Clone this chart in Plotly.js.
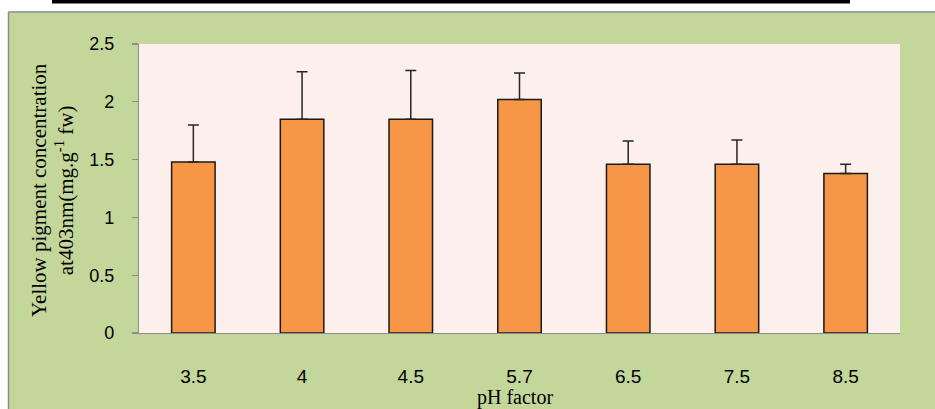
<!DOCTYPE html>
<html>
<head>
<meta charset="utf-8">
<script src="https://cdn.plot.ly/plotly-3.0.1.min.js"></script>
<style>html,body{margin:0;padding:0;background:#fff;}</style>
</head>
<body>
<div id="chart" style="width:935px;height:409px;"></div>
<script>
// Data
const categories = ['3.5', '4', '4.5', '5.7', '6.5', '7.5', '8.5'];
const values = [1.48, 1.85, 1.85, 2.02, 1.46, 1.46, 1.38];
const errorsPlus = [0.32, 0.41, 0.42, 0.23, 0.20, 0.21, 0.08];
const errorsMinus = [0, 0, 0, 0, 0, 0, 0];
const yTickVals = [0, 0.5, 1, 1.5, 2, 2.5];
const yTickText = ['0', '0.5', '1', '1.5', '2', '2.5'];
const xTitle = 'pH factor';
const yTitle = 'Yellow pigment concentration<br>at403nm(mg.g<sup>-1</sup> fw)';

// layout geometry (pixels)
const W = 935, H = 409;
const mL = 139, mR = 35, mT = 44, mB = 76;
const pw = W - mL - mR, ph = H - mT - mB;
const px2x = p => (p - mL) / pw;
const px2y = p => (H - mB - p) / ph;

const trace = {
  type: 'bar',
  x: categories,
  y: values,
  marker: { color: '#F79646', line: { color: '#1a1a1a', width: 1.5 } },
  error_y: {
    type: 'data', symmetric: false, array: errorsPlus, arrayminus: errorsMinus,
    color: '#262626', thickness: 1.5, width: 5.5
  },
  hoverinfo: 'none'
};

const layout = {
  width: W, height: H,
  margin: { l: mL, r: mR, t: mT, b: mB, pad: 0 },
  paper_bgcolor: '#C4D79B',
  plot_bgcolor: '#FDEFEB',
  showlegend: false,
  bargap: 0.6,
  font: { family: 'Liberation Sans, Arial, sans-serif', color: '#000' },
  xaxis: {
    type: 'category',
    showgrid: false, zeroline: false,
    showline: true, linecolor: '#8c8c8c', linewidth: 1.2,
    ticks: '', ticklabelstandoff: 26,
    tickfont: { size: 19, family: 'Liberation Sans, Arial, sans-serif', color: '#000' },
    fixedrange: true
  },
  yaxis: {
    range: [0, 2.5],
    tickvals: yTickVals, ticktext: yTickText,
    showgrid: false, zeroline: false,
    showline: true, linecolor: '#8c8c8c', linewidth: 1.2,
    ticks: 'outside', ticklen: 6, tickcolor: '#8c8c8c', tickwidth: 1.2,
    ticklabelstandoff: 14,
    tickfont: { size: 18, family: 'Liberation Sans, Arial, sans-serif', color: '#000' },
    fixedrange: true
  },
  annotations: [
    {
      text: yTitle, xref: 'paper', yref: 'paper',
      x: px2x(52), y: px2y(190), xanchor: 'center', yanchor: 'middle',
      textangle: -90, showarrow: false,
      font: { family: 'Liberation Serif, Times New Roman, serif', size: 21, color: '#000' }
    },
    {
      text: xTitle, xref: 'paper', yref: 'paper',
      x: px2x(515), y: px2y(397), xanchor: 'center', yanchor: 'middle',
      showarrow: false,
      font: { family: 'Liberation Serif, Times New Roman, serif', size: 20, color: '#000' }
    }
  ],
  shapes: [
    // white strip above the green chart area
    { type: 'rect', xref: 'paper', yref: 'paper', x0: px2x(-5), x1: px2x(945), y0: px2y(11.5), y1: px2y(-5),
      fillcolor: '#ffffff', line: { width: 0 }, layer: 'above' },
    // white strip left of the green chart area
    { type: 'rect', xref: 'paper', yref: 'paper', x0: px2x(-5), x1: px2x(8.5), y0: px2y(415), y1: px2y(-5),
      fillcolor: '#ffffff', line: { width: 0 }, layer: 'above' },
    // chart-area border (top and left)
    { type: 'line', xref: 'paper', yref: 'paper', x0: px2x(8.5), x1: px2x(940), y0: px2y(12), y1: px2y(12),
      line: { color: '#8c8c8c', width: 1.5 } },
    { type: 'line', xref: 'paper', yref: 'paper', x0: px2x(8.5), x1: px2x(8.5), y0: px2y(12), y1: px2y(415),
      line: { color: '#8c8c8c', width: 1.5 } },
    // black rule at the very top
    { type: 'rect', xref: 'paper', yref: 'paper', x0: px2x(52), x1: px2x(850), y0: px2y(3.5), y1: px2y(-2),
      fillcolor: '#000000', line: { width: 0 }, layer: 'above' }
  ]
};

Plotly.newPlot('chart', [trace], layout, { displayModeBar: false, staticPlot: true });
</script>
</body>
</html>
